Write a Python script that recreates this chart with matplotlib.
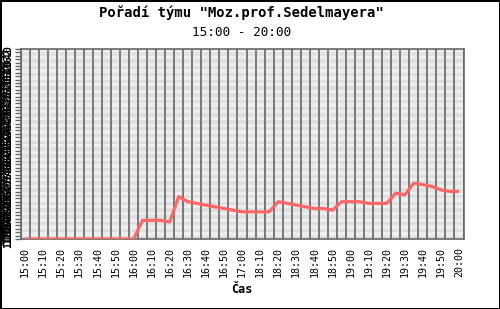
import matplotlib
matplotlib.use("Agg")
import matplotlib.pyplot as plt
import numpy as np

title = 'Pořadí týmu "Moz.prof.Sedelmayera"'
subtitle = "15:00 - 20:00"
xlabel = "Čas"

times = ["15:00", "15:05", "15:10", "15:15", "15:20", "15:25", "15:30", "15:35",
         "15:40", "15:45", "15:50", "15:55", "16:00", "16:05", "16:10", "16:15",
         "16:20", "16:25", "16:30", "16:35", "16:40", "16:45", "16:50", "16:55",
         "17:00", "18:05", "18:10", "18:15", "18:20", "18:25", "18:30", "18:35",
         "18:40", "18:45", "18:50", "18:55", "19:00", "19:05", "19:10", "19:15",
         "19:20", "19:25", "19:30", "19:35", "19:40", "19:45", "19:50", "19:55",
         "20:00"]
rank = [112, 112, 112, 112, 112, 112, 112, 112, 112, 112, 112, 112, 112,
        101, 101, 101, 102, 87, 90, 91, 92, 93, 94, 95, 96, 96, 96, 96,
        90, 91, 92, 93, 94, 94, 95, 90, 90, 90, 91, 91, 91, 85, 86,
        79, 80, 81, 83, 84, 84]
n_teams = 112

mono = "DejaVu Sans Mono"
fig = plt.figure(figsize=(5.0, 3.09), dpi=100)
fig.patch.set_facecolor("white")
fig.patch.set_edgecolor("black")
fig.patch.set_linewidth(2)

ax = fig.add_axes([20.5 / 500, 1 - 239 / 309, 443 / 500, 190 / 309])
x = np.arange(len(times))

# striped background
yt = np.arange(0, n_teams + 1, 2)
for i in range(len(yt) - 1):
    ax.axhspan(yt[i], yt[i + 1], color="#eeeeee" if i % 2 == 0 else "#e0e0e0",
               lw=0, zorder=0)
# vertical grid lines at category boundaries
for b in np.arange(len(times) + 1) - 0.5:
    ax.axvline(b, color="#666666", lw=1.2, zorder=1)

ax.plot(x, rank, color="#ff6666", lw=2.3, zorder=3, solid_capstyle="butt")

ax.set_xlim(-0.5, len(times) - 0.5)
ax.set_ylim(n_teams, 0)

ax.set_xticks(x[::2])
ax.set_xticklabels(times[::2], rotation=90, fontsize=7.2, family=mono)
ax.tick_params(axis="x", length=0, pad=6)

ax.set_yticks(yt)
ax.set_yticklabels([str(v) for v in yt], fontsize=7, family=mono,
                   fontweight="bold", rotation=90, va="center")
yminor = np.arange(1, n_teams, 2)
ax.set_yticks(yminor, minor=True)
ax.set_yticklabels([str(v) for v in yminor], minor=True, fontsize=7,
                   family=mono, fontweight="bold", rotation=90, va="center")
ax.tick_params(axis="y", which="major", length=4, width=1, color="#666666", pad=1)
ax.tick_params(axis="y", which="minor", length=0, pad=10)
for s in ax.spines.values():
    s.set_color("#666666")
    s.set_linewidth(1.2)

ax.set_xlabel(xlabel, fontsize=8.5, fontweight="bold", family=mono, labelpad=4)
fig.text(0.483, 1 - 13 / 309, title, ha="center", va="center", fontsize=10,
         fontweight="bold", family=mono)
fig.text(0.484, 1 - 33 / 309, subtitle, ha="center", va="center", fontsize=9.2,
         family=mono)

fig.savefig("out.png", dpi=100)
